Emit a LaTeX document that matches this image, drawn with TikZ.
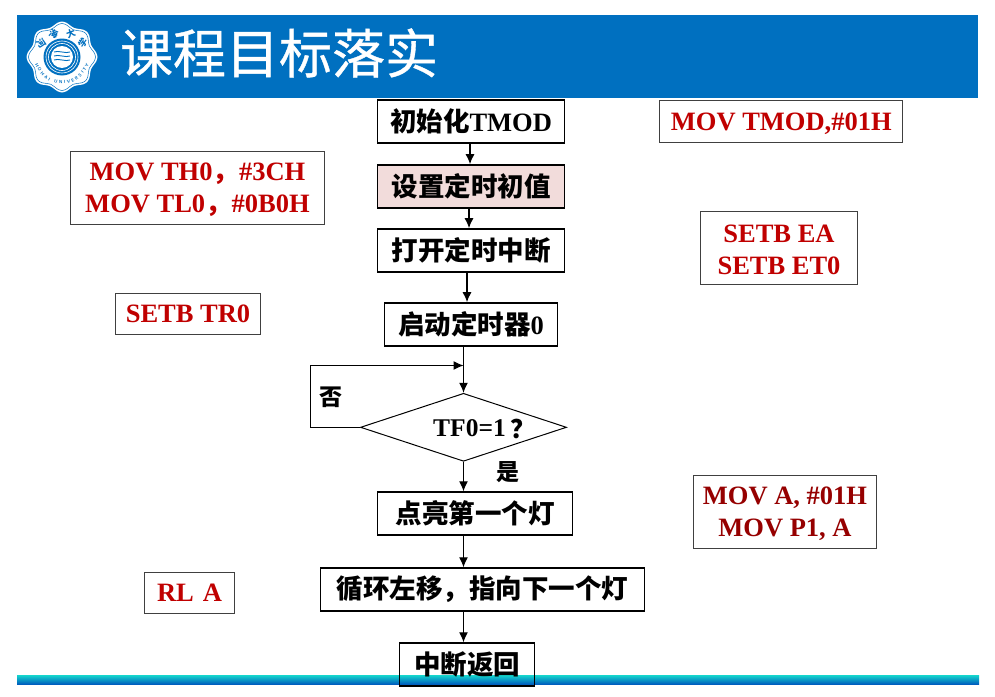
\documentclass[tikz,border=0pt]{standalone}
\usepackage{fontspec}
\usepackage{xcolor}
\usetikzlibrary{arrows.meta,positioning,shapes.geometric,decorations.text}
\setmainfont{Liberation Serif}
\newfontfamily\cjk{Noto Sans CJK SC}
\newfontfamily\cjktitle[FakeBold=0.7]{Noto Sans CJK SC}
\newcommand{\firstline}{\rule{0pt}{22pt}}
\definecolor{headblue}{RGB}{0,112,192}
\definecolor{asmred}{RGB}{192,0,0}
\definecolor{asmdark}{RGB}{150,0,0}
\definecolor{setpink}{RGB}{242,220,219}
\definecolor{bandteal}{RGB}{20,215,205}
\definecolor{bandblue}{RGB}{0,95,190}

\begin{document}
\begin{tikzpicture}[
  x=1pt, y=-1pt,
  flowbox/.style={draw=black, line width=1.6pt, minimum height=43pt, inner sep=0pt, align=center, font=\fontsize{26.5}{32}\selectfont\bfseries},
  asmbox/.style={draw=black!75, line width=1pt, fill=white, inner sep=0pt, align=center, text=asmred, font=\fontsize{26.5}{32}\selectfont\bfseries},
  lbl/.style={inner sep=0pt, font=\fontsize{23}{26}\selectfont\cjk\bfseries},
  arr/.style={-{Latex[length=10pt,width=9pt]}, line width=1.3pt}
]
\useasboundingbox (0,0) rectangle (995,696);

% header and bottom band
\fill[headblue] (17,15) rectangle (978,98);
\shade[top color=bandteal, bottom color=bandblue] (17,675) rectangle (979,684);
\node[inner sep=0pt, text=white, font=\fontsize{53}{60}\selectfont\cjktitle] (title) at (279,53) {课程目标落实};

% seal
\begin{scope}[shift={(62,57)}]
\fill[white] plot[smooth cycle, samples=48, domain=0:352.5] ({(33.5+2*cos(8*\x))*cos(\x)}, {(33.5+2*cos(8*\x))*sin(\x)});
\draw[headblue, line width=.5pt] plot[smooth cycle, samples=48, domain=0:352.5] ({(31.5+2*cos(8*\x))*cos(\x)}, {(31.5+2*cos(8*\x))*sin(\x)});
\fill[headblue] (0,0) circle (18.5);
\foreach \r in {16,13.5} \draw[white, line width=.6pt] (0,0) circle (\r);
\fill[white] (0,0) circle (11);
\foreach \yy in {-5,-1,3} \draw[headblue, line width=.9pt] (-8,\yy) .. controls (-4,\yy-2) and (4,\yy+2) .. (8,\yy);
\foreach \ch/\ang in {河/-146,海/-110,大/-69,学/-34}
  \node[text=headblue, inner sep=0pt, rotate=\ang+90, font=\fontsize{9}{10}\selectfont\cjk\bfseries] at ({25*cos(\ang)},{25*sin(\ang)}) {\ch};
\path[decorate, decoration={text along path, text align={fit to path}, text={|\fontsize{4.5}{5}\selectfont\sffamily\bfseries\color{headblue}|HOHAI UNIVERSITY}}]
  (-27,7) .. controls (-21,21) and (-11,27) .. (0,27) .. controls (11,27) and (21,21) .. (27,7);
\end{scope}

% flow chart
\node[flowbox, minimum width=187pt] (initbox) at (471,121.5) {{\cjk 初始化}TMOD};
\node[flowbox, minimum width=187pt, fill=setpink, below=20.4pt of initbox] (setbox) {\cjk 设置定时初值};
\node[flowbox, minimum width=187pt, below=19.4pt of setbox] (openbox) {\cjk 打开定时中断};
\node[flowbox, minimum width=173pt, below=29.4pt of openbox] (startbox) {{\cjk 启动定时器}0};
\node[diamond, draw=black, line width=1pt, aspect=3, minimum width=206pt, minimum height=68pt, inner sep=0pt, below=46pt of startbox, xshift=-7.5pt] (testbox) {};
\node[flowbox, minimum width=195pt, below=29.5pt of testbox, xshift=11.5pt] (lightbox) {\cjk 点亮第一个灯};
\node[flowbox, minimum width=324pt, below=31.4pt of lightbox, xshift=7.5pt] (shiftbox) {\cjk 循环左移，指向下一个灯};
\node[flowbox, minimum width=135pt, below=30.4pt of shiftbox, xshift=-15.5pt] (retbox) {\cjk 中断返回};

\node[lbl, font=\fontsize{25.5}{28}\selectfont\bfseries, right=-134pt of testbox, yshift=-2pt] (testlbl) {TF0=1\,{\cjk\raisebox{-2pt}{？}}};
\node[lbl] (nolbl) at (331,397) {否};
\node[lbl] (yeslbl) at (508,472) {是};

\coordinate (loopjoin) at (463.5,365.5);

\draw[arr] ([xshift=-1pt]initbox.south) -- ([xshift=-1pt]setbox.north);
\draw[arr] ([xshift=-2pt]setbox.south) -- ([xshift=-2pt]openbox.north);
\draw[arr] ([xshift=-4pt]openbox.south) -- ([xshift=-4pt]startbox.north);
\draw[arr] (startbox.south -| testbox) -- (testbox.north);
\draw[arr] (testbox.south) -- (testbox.south |- lightbox.north);
\draw[arr] (lightbox.south -| testbox) -- (testbox |- shiftbox.north);
\draw[arr] (shiftbox.south -| testbox) -- (testbox |- retbox.north);
\draw[arr, line width=1pt] (testbox.west) -- ++(-50,0) |- (loopjoin);

% instruction notes
\node[asmbox, minimum width=243pt, minimum height=42pt, right=94pt of initbox] (tmodnote) {\firstline MOV TMOD,\#01H};
\node[asmbox, minimum width=254pt, minimum height=73pt, left=51.7pt of setbox, yshift=-1.5pt] (thnote) {\firstline MOV TH0{\cjk ，}\#3CH\\MOV TL0{\cjk ，}\#0B0H};
\node[asmbox, minimum width=157pt, minimum height=73pt, right=134.7pt of openbox, yshift=2.5pt] (eanote) {\firstline SETB EA\\SETB ET0};
\node[asmbox, minimum width=145pt, minimum height=41pt, left=122.7pt of startbox, yshift=10.5pt] (trnote) {SETB TR0};
\node[asmbox, minimum width=183pt, minimum height=73pt, text=asmdark, right=119.7pt of lightbox, yshift=2pt] (anote) {\firstline MOV A, \#01H\\MOV P1, A};
\node[asmbox, minimum width=90pt, minimum height=41pt, left=84.7pt of shiftbox, yshift=-3pt] (rlnote) {RL\hspace{9pt}A};
\end{tikzpicture}
\end{document}
